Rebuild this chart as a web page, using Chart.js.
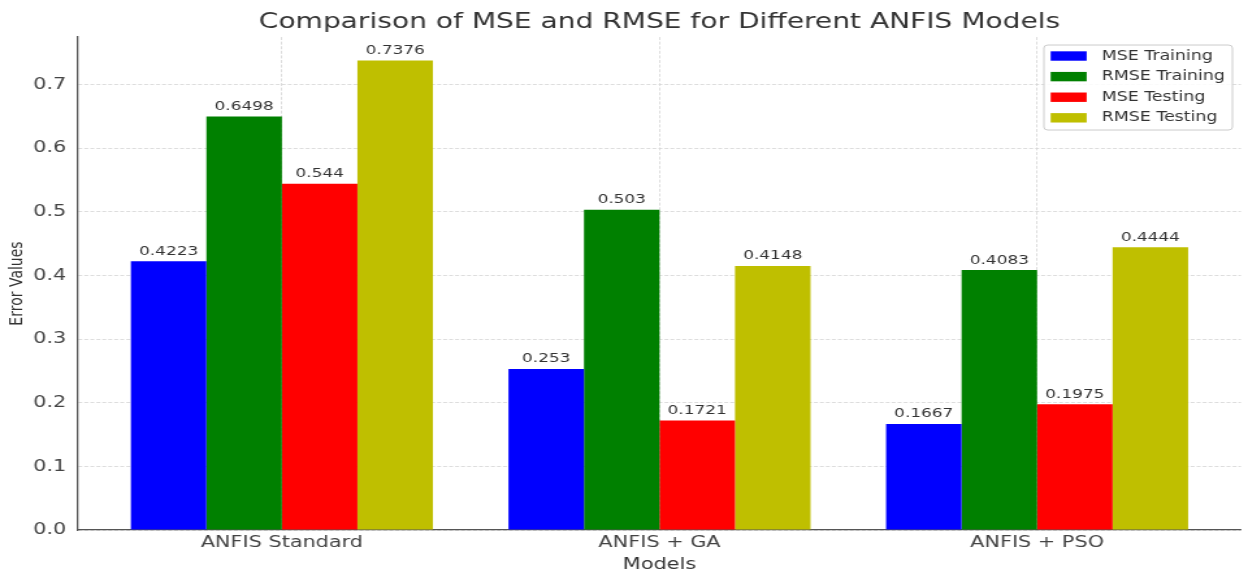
<!DOCTYPE html>
<html>
<head>
<meta charset="utf-8">
<script src="https://cdn.jsdelivr.net/npm/chart.js@4.4.1/dist/chart.umd.min.js"></script>
<style>
  html, body { margin: 0; padding: 0; background: #fff; overflow: hidden; }
  #grafico { display: block; }
</style>
</head>
<body>
<!-- the reference is stretched horizontally, so the canvas is drawn narrower and widened by css -->
<canvas id="grafico" width="960" height="574" style="width:1248px;height:574px"></canvas>
<script>
// Datos
const modelos = ['ANFIS Standard', 'ANFIS + GA', 'ANFIS + PSO'];
const mseTraining = [0.4223, 0.253, 0.1667];
const rmseTraining = [0.6498, 0.503, 0.4083];
const mseTesting = [0.544, 0.1721, 0.1975];
const rmseTesting = [0.7376, 0.4148, 0.4444];
const ticksY = [0, 0.1, 0.2, 0.3, 0.4, 0.5, 0.6, 0.7];

const series = [
    { label: 'MSE Training', datos: mseTraining, color: '#0000ff' },
    { label: 'RMSE Training', datos: rmseTraining, color: '#008000' },
    { label: 'MSE Testing', datos: mseTesting, color: '#ff0000' },
    { label: 'RMSE Testing', datos: rmseTesting, color: '#bfbf00' }
];

const fuente = "'DejaVu Sans', sans-serif";
const maxY = Math.max(...series.flatMap(s => s.datos)) * 1.05;

// Etiquetas de valor encima de cada barra
const etiquetasValores = {
    id: 'etiquetasValores',
    afterDatasetsDraw(chart) {
        const ctx = chart.ctx;
        ctx.save();
        ctx.font = '13px ' + fuente;
        ctx.fillStyle = '#333';
        ctx.textAlign = 'center';
        ctx.textBaseline = 'alphabetic';
        chart.data.datasets.forEach((ds, i) => {
            chart.getDatasetMeta(i).data.forEach((barra, j) => {
                ctx.fillText(String(ds.data[j].y), barra.x, barra.y - 6.5);
            });
        });
        ctx.restore();
    }
};

// Leyenda dentro del área del gráfico, arriba a la derecha
const leyendaInterna = {
    id: 'leyendaInterna',
    afterDraw(chart) {
        const ctx = chart.ctx;
        const area = chart.chartArea;
        const ancho = 145, alto = 85;
        const x0 = area.right - 6.6 - ancho;
        const y0 = area.top + 8;
        ctx.save();
        ctx.beginPath();
        ctx.roundRect(x0, y0, ancho, alto, 3);
        ctx.fillStyle = 'rgba(255,255,255,0.85)';
        ctx.fill();
        ctx.strokeStyle = '#cccccc';
        ctx.lineWidth = 1;
        ctx.stroke();
        ctx.font = '13.4px ' + fuente;
        ctx.textBaseline = 'middle';
        ctx.textAlign = 'left';
        chart.data.datasets.forEach((ds, i) => {
            const y = y0 + 11 + i * 20.6;
            ctx.fillStyle = ds.backgroundColor;
            ctx.fillRect(x0 + 5.2, y - 4.7, 27.7, 9.4);
            ctx.fillStyle = '#333';
            ctx.fillText(ds.label, x0 + 44.4, y);
        });
        ctx.restore();
    }
};

const rejilla = {
    color: '#d4d4d4',
    lineWidth: 0.8,
    drawTicks: false
};

new Chart(document.getElementById('grafico'), {
    type: 'bar',
    data: {
        datasets: series.map(s => ({
            label: s.label,
            data: s.datos.map((v, i) => ({ x: i, y: v })),
            backgroundColor: s.color,
            borderWidth: 0,
            categoryPercentage: 0.8,
            barPercentage: 1
        }))
    },
    options: {
        responsive: false,
        animation: false,
        layout: { padding: { left: 0, right: 5.4, top: 0, bottom: 0 } },
        scales: {
            x: {
                type: 'linear',
                min: -0.54,
                max: 2.54,
                offset: false,
                afterBuildTicks: scale => { scale.ticks = modelos.map((m, i) => ({ value: i })); },
                afterFit: scale => { scale.height = 44; },
                ticks: {
                    callback: v => modelos[v],
                    font: { family: fuente, size: 16 },
                    color: '#444',
                    padding: 3,
                    maxRotation: 0,
                    autoSkip: false
                },
                grid: { ...rejilla, offset: false },
                border: { color: '#555', width: 1.3, dash: [3, 1.6] },
                title: {
                    display: true,
                    text: 'Models',
                    font: { family: fuente, size: 16 },
                    color: '#333',
                    padding: { top: 0, bottom: 0 }
                }
            },
            y: {
                min: 0,
                max: maxY,
                afterBuildTicks: scale => { scale.ticks = ticksY.map(v => ({ value: v })); },
                afterFit: scale => { scale.width = 60; },
                ticks: {
                    callback: v => v.toFixed(1),
                    font: { family: fuente, size: 16 },
                    color: '#444',
                    padding: 9
                },
                grid: rejilla,
                border: { color: '#555', width: 1.3, dash: [3, 1.6] },
                title: {
                    display: true,
                    text: 'Error Values',
                    font: { family: fuente, size: 14 },
                    color: '#333',
                    padding: { top: 5.4, bottom: 0 }
                }
            }
        },
        plugins: {
            legend: { display: false },
            tooltip: { enabled: false },
            title: {
                display: true,
                text: 'Comparison of MSE and RMSE for Different ANFIS Models',
                font: { family: fuente, size: 21.6, weight: 'normal' },
                color: '#333',
                fullSize: false,
                padding: { top: 9.5, bottom: 1.6 }
            }
        }
    },
    plugins: [etiquetasValores, leyendaInterna]
});
</script>
</body>
</html>
